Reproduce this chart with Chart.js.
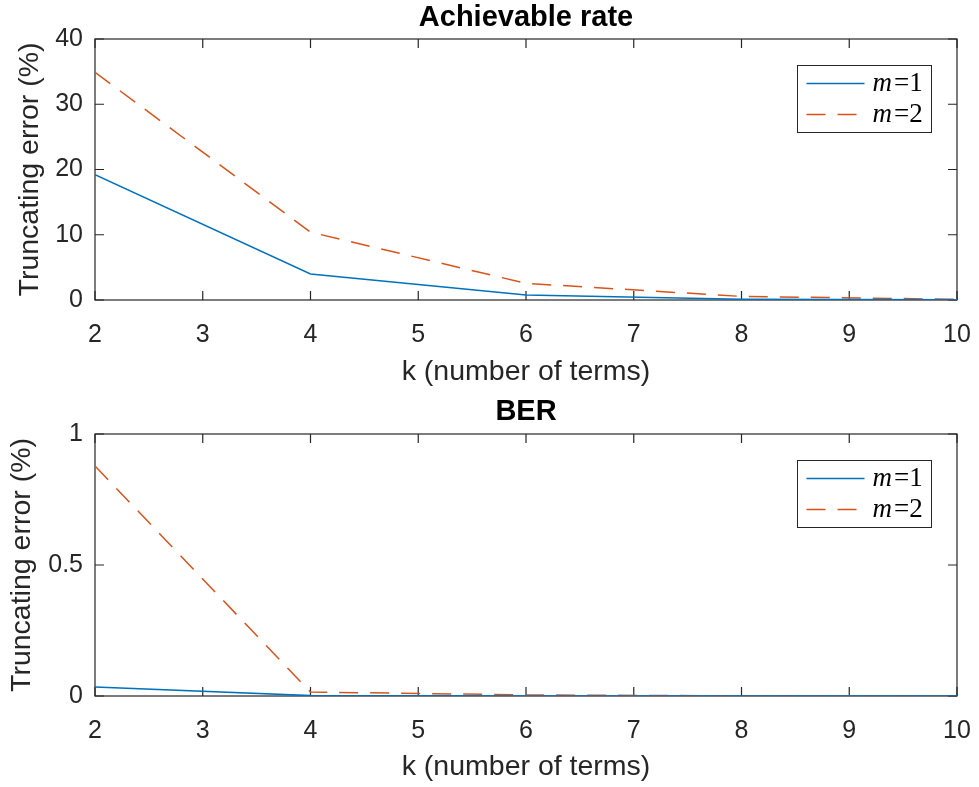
<!DOCTYPE html>
<html>
<head>
<meta charset="utf-8">
<script src="https://cdn.jsdelivr.net/npm/chart.js@4"></script>
<style>
  body { margin: 0; background: #fff; }
  canvas { display: block; }
</style>
</head>
<body>
<canvas id="rateChart" width="979" height="394"></canvas>
<canvas id="berChart" width="979" height="393"></canvas>
<script>
// number of series terms kept
const kTerms = [2, 4, 6, 8, 10];

// truncating error (%) of the achievable rate
const rateM1 = [19.2, 4.0, 0.75, 0.12, 0.03];
const rateM2 = [34.9, 10.4, 2.55, 0.55, 0.1];

// truncating error (%) of the BER
const berM1 = [0.034, 0.0015, 0.0002, 0, 0];
const berM2 = [0.878, 0.015, 0.004, 0.0005, 0];

const seriesLabels = ['m=1', 'm=2'];

const axisColor = '#262626';
const blue = '#0072BD';
const orange = '#D95319';
const sans = '"Liberation Sans", Arial, sans-serif';

const toPoints = (ys) => kTerms.map((k, i) => ({ x: k, y: ys[i] }));

// box around the plot area, ticks pointing inward on all four sides
const boxTicks = {
  id: 'boxTicks',
  beforeDatasetsDraw(chart) {
    const { ctx, chartArea: a, scales } = chart;
    const len = 9;
    ctx.save();
    ctx.strokeStyle = axisColor;
    ctx.lineWidth = 1.2;
    ctx.strokeRect(a.left, a.top, a.right - a.left, a.bottom - a.top);
    ctx.beginPath();
    scales.x.ticks.forEach((t) => {
      const px = scales.x.getPixelForValue(t.value);
      ctx.moveTo(px, a.bottom); ctx.lineTo(px, a.bottom - len);
      ctx.moveTo(px, a.top); ctx.lineTo(px, a.top + len);
    });
    scales.y.ticks.forEach((t) => {
      const py = scales.y.getPixelForValue(t.value);
      ctx.moveTo(a.left, py); ctx.lineTo(a.left + len, py);
      ctx.moveTo(a.right, py); ctx.lineTo(a.right - len, py);
    });
    ctx.stroke();
    ctx.restore();
  }
};

// bold title centred over the plot area rather than the whole canvas
const areaTitle = {
  id: 'areaTitle',
  afterDraw(chart, args, opts) {
    const { ctx, chartArea: a } = chart;
    ctx.save();
    ctx.fillStyle = '#000';
    ctx.font = 'bold 29px ' + sans;
    ctx.textAlign = 'center';
    ctx.textBaseline = 'alphabetic';
    ctx.fillText(opts.text, (a.left + a.right) / 2, a.top - opts.gap);
    ctx.restore();
  }
};

// legend box in the top right corner, italic m like a math label
const mathLegend = {
  id: 'mathLegend',
  afterDraw(chart) {
    const { ctx, chartArea: a } = chart;
    const w = 134, h = 67;
    const x0 = Math.round(a.right - 26 - w) + 0.5;
    const y0 = Math.round(a.top + 26) + 0.5;
    ctx.save();
    ctx.fillStyle = '#fff';
    ctx.fillRect(x0, y0, w, h);
    ctx.strokeStyle = axisColor;
    ctx.lineWidth = 1;
    ctx.strokeRect(x0, y0, w, h);
    chart.data.datasets.forEach((ds, i) => {
      const y = y0 + 18 + i * 31;
      ctx.strokeStyle = ds.borderColor;
      ctx.lineWidth = ds.borderWidth;
      ctx.setLineDash(ds.borderDash || []);
      ctx.beginPath();
      ctx.moveTo(x0 + 9, y);
      ctx.lineTo(x0 + 67, y);
      ctx.stroke();
      ctx.setLineDash([]);
      const [name, val] = ds.label.split('=');
      ctx.fillStyle = '#000';
      ctx.textBaseline = 'middle';
      ctx.font = 'italic 27px "Liberation Serif", serif';
      let tx = x0 + 75;
      ctx.fillText(name, tx, y);
      tx += ctx.measureText(name).width + 2;
      ctx.font = '27px "Liberation Serif", serif';
      ctx.fillText('=' + val, tx, y);
    });
    ctx.restore();
  }
};

function makeChart(id, title, m1, m2, yMax, yStep, opts) {
  const canvas = document.getElementById(id);
  const H = canvas.height;
  return new Chart(canvas, {
    type: 'line',
    data: {
      datasets: [
        {
          label: seriesLabels[0],
          data: toPoints(m1),
          borderColor: blue,
          borderWidth: 1.5,
          pointRadius: 0,
          tension: 0
        },
        {
          label: seriesLabels[1],
          data: toPoints(m2),
          borderColor: orange,
          borderWidth: 1.5,
          borderDash: [19, 12],
          pointRadius: 0,
          tension: 0
        }
      ]
    },
    options: {
      responsive: false,
      animation: false,
      layout: { padding: { left: 0, right: 22, top: opts.areaTop, bottom: 0 } },
      plugins: {
        legend: { display: false },
        tooltip: { enabled: false },
        title: { display: false },
        areaTitle: { text: title, gap: opts.titleGap }
      },
      scales: {
        x: {
          type: 'linear',
          min: 2,
          max: 10,
          grid: { display: false, drawTicks: false },
          border: { display: false },
          ticks: {
            stepSize: 1,
            padding: 20,
            color: axisColor,
            font: { family: sans, size: 25 }
          },
          title: {
            display: true,
            text: 'k (number of terms)',
            color: axisColor,
            font: { family: sans, size: 28.5 },
            padding: { top: 0, bottom: opts.xTitlePad }
          },
          afterFit(scale) {
            scale.height = H - opts.areaBottom;
            scale.paddingLeft = 0;
            scale.paddingRight = 0;
          }
        },
        y: {
          min: 0,
          max: yMax,
          grid: { display: false, drawTicks: false },
          border: { display: false },
          ticks: {
            stepSize: yStep,
            padding: 12,
            color: axisColor,
            font: { family: sans, size: 25 },
            callback: (v) => String(v)
          },
          title: {
            display: true,
            text: 'Truncating error (%)',
            color: axisColor,
            font: { family: sans, size: 28.5 },
            padding: { top: opts.yTitlePad, bottom: 0 }
          },
          afterFit(scale) {
            scale.width = 95;
            scale.paddingTop = 0;
            scale.paddingBottom = 0;
          }
        }
      }
    },
    plugins: [boxTicks, areaTitle, mathLegend]
  });
}

window.addEventListener('load', () => {
  makeChart('rateChart', 'Achievable rate', rateM1, rateM2, 40, 10,
    { areaTop: 39, titleGap: 13, areaBottom: 300, xTitlePad: 5, yTitlePad: 13 });
  makeChart('berChart', 'BER', berM1, berM2, 1, 0.5,
    { areaTop: 40, titleGap: 14, areaBottom: 302, xTitlePad: 3, yTitlePad: 5 });
});
</script>
</body>
</html>
